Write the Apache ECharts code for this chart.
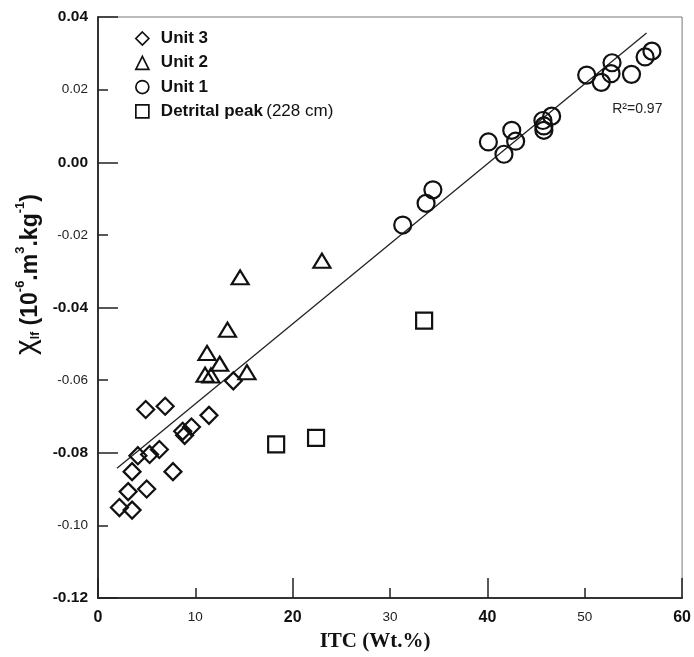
<!DOCTYPE html>
<html>
<head>
<meta charset="utf-8">
<script src="https://cdn.jsdelivr.net/npm/echarts@6/dist/echarts.min.js"></script>
<style>
  html, body { margin: 0; padding: 0; background: #fff; }
  #main { width: 694px; height: 657px; }
</style>
</head>
<body>
<div id="main"></div>
<script>
// values: [ITC wt.%, chi_lf]
const unit3 = [
  [4.9, -0.0681], [6.9, -0.0672], [11.4, -0.0697], [13.9, -0.0602],
  [8.7, -0.0741], [8.9, -0.0752], [9.6, -0.0729], [4.1, -0.0808],
  [5.3, -0.0805], [6.3, -0.0791], [3.5, -0.0852], [7.7, -0.0852],
  [3.1, -0.0907], [5.0, -0.0900], [2.2, -0.0951], [3.5, -0.0958]
];
const unit2 = [
  [23.0, -0.0271], [14.6, -0.0317], [13.3, -0.0461], [11.2, -0.0525],
  [12.5, -0.0555], [11.0, -0.0585], [11.6, -0.0587], [15.3, -0.0578]
];
const unit1 = [
  [31.3, -0.0173], [33.7, -0.0113], [34.4, -0.0076], [40.1, 0.0056],
  [41.7, 0.0022], [42.5, 0.0088], [42.9, 0.0058], [45.7, 0.0115],
  [45.8, 0.0100], [45.8, 0.0088], [46.6, 0.0127], [50.2, 0.0240],
  [51.7, 0.0220], [52.8, 0.0274], [52.7, 0.0244], [54.8, 0.0242],
  [56.2, 0.0290], [56.9, 0.0306]
];
const detrital = [[18.3, -0.0777], [22.4, -0.0759], [33.5, -0.0436]];
const fitLine = [[1.95, -0.0843], [56.35, 0.0356]];
const r2Pos = [55.4, 0.0145];

const boldX = [0, 20, 40, 60];
const boldY = ['0.04', '0.00', '-0.04', '-0.08', '-0.12'];

const ink = '#111';
const sans = 'Liberation Sans';

function pointStyle() {
  return { color: 'rgba(255,255,255,0)', borderColor: ink, borderWidth: 2.2, opacity: 1 };
}
function legendStyle() {
  return { color: 'rgba(255,255,255,0)', borderColor: ink, borderWidth: 1.7, opacity: 1 };
}

const chart = echarts.init(document.getElementById('main'));

const option = {
  animation: false,
  backgroundColor: '#fff',
  grid: {
    left: 98, top: 17, right: 10, bottom: 57,
    show: true, borderColor: '#777', borderWidth: 1
  },
  legend: {
    orient: 'vertical',
    left: 130, top: 25,
    itemWidth: 13, itemHeight: 13, itemGap: 7.3,
    selectedMode: false,
    data: [
      { name: 'Unit 3', icon: 'diamond', itemStyle: legendStyle() },
      { name: 'Unit 2', icon: 'triangle', itemStyle: legendStyle() },
      { name: 'Unit 1', icon: 'circle', itemStyle: legendStyle() },
      { name: 'Detrital peak', icon: 'rect', itemStyle: legendStyle() }
    ],
    formatter: function (name) {
      if (name === 'Detrital peak') return '{b|Detrital peak} {n|(228 cm)}';
      return '{b|' + name + '}';
    },
    textStyle: {
      rich: {
        b: { fontFamily: sans, fontWeight: 'bold', fontSize: 17, color: ink, lineHeight: 19, padding: [0, 0, 0, 7] },
        n: { fontFamily: sans, fontSize: 17, color: ink, lineHeight: 19 }
      }
    }
  },
  xAxis: [
    {
      type: 'value', min: 0, max: 60, interval: 10,
      splitLine: { show: false },
      axisLine: { onZero: false, lineStyle: { color: '#333', width: 2 } },
      axisTick: { inside: true, length: 10, lineStyle: { color: '#222', width: 1.5 } },
      axisLabel: {
        margin: 12,
        formatter: function (v) {
          return boldX.indexOf(v) >= 0 ? '{b|' + v + '}' : '{n|' + v + '}';
        },
        rich: {
          b: { fontFamily: sans, fontWeight: 'bold', fontSize: 16, color: ink },
          n: { fontFamily: sans, fontSize: 13.5, color: '#222' }
        }
      },
      name: 'ITC (Wt.%)',
      nameLocation: 'middle',
      nameGap: 33,
      nameTextStyle: {
        fontFamily: 'Liberation Serif', fontWeight: 'bold', fontSize: 21,
        color: ink, padding: [0, 30, 0, 0]
      }
    },
    {
      type: 'value', min: 0, max: 60, interval: 20,
      position: 'bottom',
      splitLine: { show: false },
      axisLine: { show: false, onZero: false },
      axisLabel: { show: false },
      axisTick: { inside: true, length: 20, lineStyle: { color: '#222', width: 1.5 } }
    }
  ],
  yAxis: [
    {
      type: 'value', min: -0.12, max: 0.04, interval: 0.02,
      splitLine: { show: false },
      axisLine: { onZero: false, lineStyle: { color: '#333', width: 2 } },
      axisTick: { inside: true, length: 10, lineStyle: { color: '#222', width: 1.5 } },
      axisLabel: {
        margin: 10,
        formatter: function (v) {
          const s = v.toFixed(2);
          return boldY.indexOf(s) >= 0 ? '{b|' + s + '}' : '{n|' + s + '}';
        },
        rich: {
          b: { fontFamily: sans, fontWeight: 'bold', fontSize: 15.5, color: ink },
          n: { fontFamily: sans, fontSize: 13.5, color: '#222' }
        }
      },
      name: '{c|χ}{s|lf}{a| (10}{p|-6}{a|.m}{p|3}{a|.kg}{p|-1}{a|)}',
      nameLocation: 'middle',
      nameGap: 54,
      nameTextStyle: {
        padding: [0, 0, 0, 66],
        rich: {
          c: { fontFamily: sans, fontSize: 30, color: ink, lineHeight: 28, verticalAlign: 'bottom' },
          a: { fontFamily: sans, fontWeight: 'bold', fontSize: 23, color: ink, lineHeight: 28, verticalAlign: 'bottom' },
          s: { fontFamily: sans, fontWeight: 'bold', fontSize: 12, color: ink, lineHeight: 28, verticalAlign: 'bottom' },
          p: { fontFamily: sans, fontWeight: 'bold', fontSize: 13, color: ink, lineHeight: 28, verticalAlign: 'top' }
        }
      }
    },
    {
      type: 'value', min: -0.12, max: 0.04, interval: 0.04,
      position: 'left',
      splitLine: { show: false },
      axisLine: { show: false, onZero: false },
      axisLabel: { show: false },
      axisTick: { inside: true, length: 20, lineStyle: { color: '#222', width: 1.5 } }
    }
  ],
  series: [
    {
      name: 'Fit', type: 'line', data: fitLine,
      symbol: 'none', silent: true,
      lineStyle: { color: '#222', width: 1.3 },
      markPoint: {
        symbol: 'circle', symbolSize: 0, silent: true,
        data: [{ coord: r2Pos }],
        label: {
          show: true, position: 'inside', formatter: 'R²=0.97',
          fontFamily: sans, fontSize: 14, color: '#222'
        }
      },
      z: 1
    },
    {
      name: 'Unit 3', type: 'scatter', data: unit3,
      symbol: 'diamond', symbolSize: 17, itemStyle: pointStyle(),
      emphasis: { disabled: true }, z: 3
    },
    {
      name: 'Unit 2', type: 'scatter', data: unit2,
      symbol: 'triangle', symbolSize: [17, 14], itemStyle: pointStyle(),
      emphasis: { disabled: true }, z: 3
    },
    {
      name: 'Unit 1', type: 'scatter', data: unit1,
      symbol: 'circle', symbolSize: 17, itemStyle: pointStyle(),
      emphasis: { disabled: true }, z: 3
    },
    {
      name: 'Detrital peak', type: 'scatter', data: detrital,
      symbol: 'rect', symbolSize: 16, itemStyle: pointStyle(),
      emphasis: { disabled: true }, z: 3
    }
  ]
};

chart.setOption(option);
</script>
</body>
</html>
